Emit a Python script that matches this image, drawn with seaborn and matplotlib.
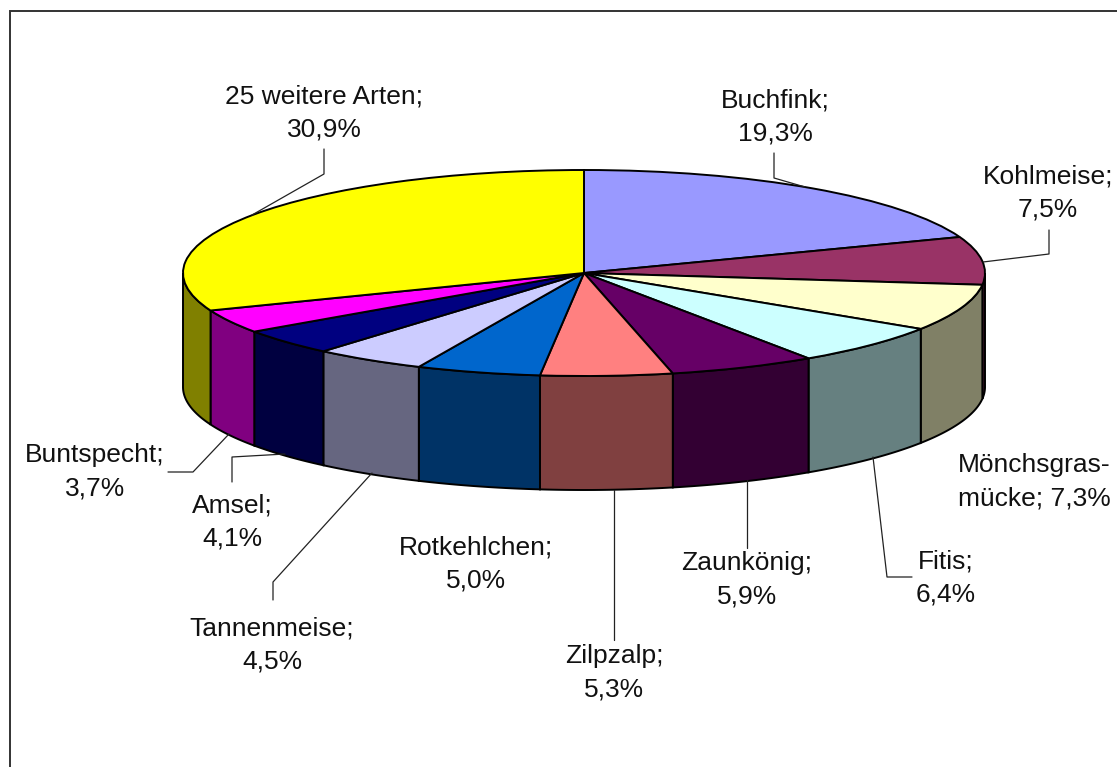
import numpy as np
import matplotlib
matplotlib.use("Agg")
import matplotlib.pyplot as plt
import seaborn as sns

# --- data -------------------------------------------------------------
species = ["Buchfink", "Kohlmeise", "Mönchsgras-\nmücke", "Fitis", "Zaunkönig", "Zilpzalp",
           "Rotkehlchen", "Tannenmeise", "Amsel", "Buntspecht", "25 weitere Arten"]
shares = [19.3, 7.5, 7.3, 6.4, 5.9, 5.3, 5.0, 4.5, 4.1, 3.7, 30.9]
top_colors = ["#9999FF", "#993366", "#FFFFCC", "#CCFFFF", "#660066", "#FF8080",
              "#0066CC", "#CCCCFF", "#000080", "#FF00FF", "#FFFF00"]
side_colors = ["#4D4D80", "#4D1933", "#808066", "#668080", "#330033", "#804040",
               "#003366", "#666680", "#000040", "#800080", "#808000"]

# --- layout (pixels of the 1117x767 canvas) -----------------------------
W, H = 1117, 767
CX, CY, RX, RY, DEPTH = 584, 273, 401, 103, 114
label_pos = [(775, 117), (1048, 193), (1034, 482), (946, 578), (747, 580), (614, 673),
             (476, 564), (272, 645), (232, 522), (95, 472), (324, 113)]
leaders = [
    [(774, 153), (774, 178), (805, 187)],
    [(1049, 230), (1049, 254), (983, 262)],
    [(873, 457), (887, 577), (912, 577)],
    [(747, 480), (747, 548)],
    [(614, 490), (614, 640)],
    [(372, 473), (273, 582), (273, 600)],
    [(285, 454), (232, 457), (232, 482)],
    [(229, 434), (193, 472), (168, 472)],
    [(324, 149), (324, 174), (252, 215)],
]

sns.set_theme(style="white")
plt.rcParams["font.family"] = ["Liberation Sans", "DejaVu Sans"]

fig = plt.figure(figsize=(W / 100, H / 100), dpi=100, facecolor="white")

# pie axes: one x unit = RX pixels, one y unit = RY pixels
ax = fig.add_axes([0, 0, 1, 1])
palette = sns.color_palette(top_colors)
ax.pie(shares, colors=palette, startangle=90, counterclock=False, radius=1,
       wedgeprops=dict(edgecolor="black", linewidth=1.4), frame=True)
ax.set_aspect("auto")
ax.set_xlim((0 - CX) / RX, (W - CX) / RX)
ax.set_ylim((CY - H) / RY, CY / RY)
ax.axis("off")

# side walls of the cylinder
depth = DEPTH / RY
edges = np.cumsum([0] + shares) / sum(shares) * 360
for i, color in enumerate(side_colors):
    a, b = max(edges[i], 90), min(edges[i + 1], 270)
    if b <= a:
        continue
    t = np.radians(np.linspace(a, b, 80))
    x, y = np.sin(t), np.cos(t)
    ax.fill(np.r_[x, x[::-1]], np.r_[y, y[::-1] - depth], facecolor=color,
            edgecolor="black", linewidth=1.4, zorder=0.5)

# overlay axes in pixel coordinates for frame, labels and leader lines
ov = fig.add_axes([0, 0, 1, 1], facecolor="none")
ov.set_xlim(0, W)
ov.set_ylim(H, 0)
ov.axis("off")
ov.plot([9.5, 9.5, W], [H, 11, 11], color="#333333", lw=1.4, solid_joinstyle="miter")

for pts in leaders:
    xs, ys = zip(*pts)
    ov.plot(xs, ys, color="#222222", lw=0.9)

for name, val, (x, y) in zip(species, shares, label_pos):
    pct = f"{val:.1f}%".replace(".", ",")
    sep = " " if name.endswith("mücke") else "\n"
    ov.text(x, y, f"{name};{sep}{pct}", ha="center", va="center", fontsize=19,
            linespacing=1.5, color="#111111")

fig.savefig("out.png", dpi=100)
